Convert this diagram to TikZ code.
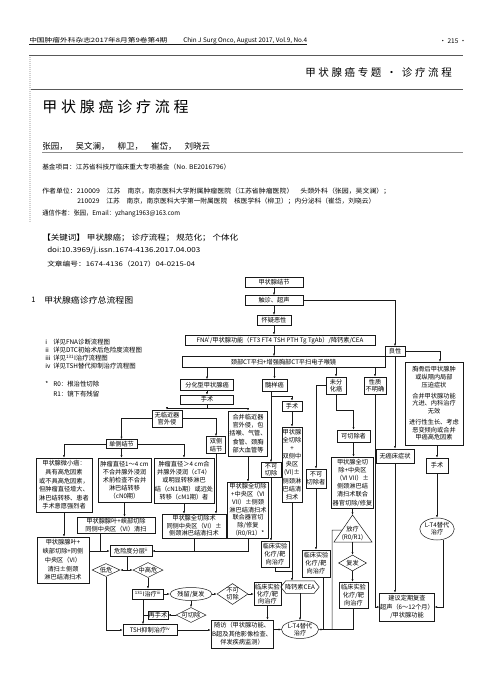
\documentclass[tikz,border=0pt]{standalone}
\usepackage{fontspec}
\usepackage{graphicx}
\newfontfamily\cjk{Noto Sans CJK SC}
\newfontfamily\cjkwide[LetterSpace=25]{Noto Sans CJK SC}
\usetikzlibrary{arrows.meta,shapes.geometric,calc}

\begin{document}
\begin{tikzpicture}[x=1pt, y=-1pt, line width=0.5pt, color=black!90,
  >={Latex[length=2.6pt,width=2.1pt]},
  bx/.style={draw, align=center, inner sep=0.4pt, text=black,
    font=\cjk\fontsize{6.2}{#1}\selectfont},
  bx/.default=7.6,
  sz/.style 2 args={minimum width=#1, minimum height=#2},
  dm/.style={draw, diamond, aspect=2, inner sep=0pt, text=black, align=center,
    font=\cjk\fontsize{6.2}{7}\selectfont},
  el/.style={draw, ellipse, inner sep=0pt, text=black, align=center,
    font=\cjk\fontsize{6.2}{7}\selectfont},
  tx/.style={inner sep=0pt, anchor=west, text=black,
    font=\cjk\fontsize{#1}{#1}\selectfont},
  rs/.style={inner sep=0pt, anchor=west, text=black, font=\cjk}]

\useasboundingbox (0,0) rectangle (502,692);

% Hlavicka
\node[rs] (jn1) at (29,40.5) {\resizebox{138pt}{5pt}{中国肿瘤外科杂志2017年8月第9卷第4期}};
\node[rs] (jn2) at (183,40.5) {\resizebox{124pt}{5pt}{Chin J Surg Onco, August 2017, Vol.9, No.4}};
\draw[line width=0.35pt] (29,44.5) -- (307,44.5);
\node[tx=6.5, anchor=center] (pg) at (453,41) {· 215 ·};
\draw[line width=0.6pt, black!65] (29,55) -- (463,55);
\node[rs, anchor=east, font=\cjkwide\fontsize{10.5}{10.5}\selectfont] (sec) at (452,72.5) {甲状腺癌专题 · 诊疗流程};
\draw[line width=0.6pt, black!65] (29,89) -- (463,89);
\node[rs, font=\cjkwide\fontsize{15}{15}\selectfont] (ttl) at (42,106.5) {甲状腺癌诊疗流程};
\draw[gray!35, line width=2pt, dash pattern=on 1pt off 1pt] (30,57) -- (30,222);

% Autori
\node[tx=8.5] (au) at (42,146.5) {张园，\hspace{8pt}吴文澜，\hspace{8pt}柳卫，\hspace{8pt}崔岱，\hspace{8pt}刘晓云};
\draw[black!45] (42,152.5) -- (463,152.5);
\node[rs] (fund) at (42,167.3) {\resizebox{188pt}{5.5pt}{基金项目：江苏省科技厅临床重大专项基金（No. BE2016796）}};
\node[rs] (un1) at (42,191) {\resizebox{348pt}{5.5pt}{作者单位：210009\quad 江苏\quad 南京，南京医科大学附属肿瘤医院（江苏省肿瘤医院）\quad 头颈外科（张园，吴文澜）；}};
\node[rs] (un2) at (77,201) {\resizebox{298pt}{5.5pt}{210029\quad 江苏\quad 南京，南京医科大学第一附属医院\quad 核医学科（柳卫）；内分泌科（崔岱，刘晓云）}};
\node[rs] (cor) at (42,214) {\resizebox{138pt}{5.5pt}{通信作者：张园，Email：yzhang1963@163.com}};
\node[rs] (kw) at (42,238.3) {\resizebox{196pt}{6.5pt}{【关键词】\ 甲状腺癌；\ 诊疗流程；\ 规范化；\ 个体化}};
\node[rs] (doi) at (47,251) {\resizebox{153pt}{5.5pt}{doi:10.3969/j.issn.1674-4136.2017.04.003}};
\node[rs] (wz) at (47,264) {\resizebox{148pt}{5.5pt}{文章编号：1674-4136（2017）04-0215-04}};
\node[tx=7.5] (s1n) at (31,300) {1};
\node[rs] (s1) at (44,300) {\resizebox{89pt}{7pt}{甲状腺癌诊疗总流程图}};

% Legenda
\node[tx=6.4] (lg1) at (45,342) {i};
\node[tx=6.4] (lt1) at (53,342) {详见FNA诊断流程图};
\node[tx=6.4] (lg2) at (45,350) {ii};
\node[tx=6.4] (lt2) at (53,350) {详见DTC初始术后危险度流程图};
\node[tx=6.4] (lg3) at (45,358) {iii};
\node[tx=6.4] (lt3) at (53,358) {详见\textsuperscript{131}I治疗流程图};
\node[tx=6.4] (lg4) at (45,366) {iv};
\node[tx=6.4] (lt4) at (53,366) {详见TSH替代抑制治疗流程图};
\node[tx=6.4] (lg5) at (45,384) {*};
\node[tx=6.4] (lt5) at (53,384) {R0：根治性切除};
\node[tx=6.4] (lt6) at (53,394) {R1：镜下有残留};

% Horni cast schematu
\node[bx, sz={58}{10}] (jj) at (274,282.5) {甲状腺结节};
\node[bx, sz={58}{10}] (cz) at (274,300.5) {触诊、超声};
\node[bx, sz={34}{9.5}] (hy) at (274,320) {怀疑恶性};
\node[bx, sz={190}{10}] (fna) at (280,340) {FNA\textsuperscript{i}/甲状腺功能（FT3 FT4 TSH PTH Tg TgAb）/降钙素/CEA};
\node[bx, sz={203}{10.5}] (ct) at (283.5,361.75) {颈部CT平扫+增强胸部CT平扫电子喉镜};
\node[bx, sz={20}{9.5}] (lx) at (395,351.3) {良性};
\node[bx, sz={53}{10.5}] (fh) at (207,384.75) {分化型甲状腺癌};
\node[bx, sz={25}{12}] (sy) at (274.5,385) {髓样癌};
\node[bx=7.2, sz={20}{17}] (uf) at (336,385.5) {未分\\化癌};
\node[bx=7.2, sz={22}{17}] (xz) at (375,385.5) {性质\\不明确};

% Diferencovany karcinom
\node[bx, sz={53}{9}] (ssl) at (207,399.5) {手术};
\node[bx=7.4, sz={30}{17}] (wl) at (167,418.5) {无临近器\\官外侵};
\node[bx=8.4, sz={39}{45}] (hb) at (248,433.5) {合并临近器\\官外侵，包\\括喉、气管、\\食管、颈胸\\部大血管等};
\node[bx, sz={31}{9}] (dc) at (121.5,444) {单侧结节};
\node[bx=7.4, sz={19}{17}] (sc) at (216,445) {双侧\\结节};
\node[bx=8.6, sz={56}{54}] (b1) at (64,485) {甲状腺微小癌：\\具有高危因素\\或不具高危因素，\\但肿瘤直径增大、\\淋巴结转移、患者\\手术意愿强烈者};
\node[bx=8, sz={53}{44}] (b2) at (124.5,480) {肿瘤直径1～4 cm\\不合并腺外浸润\\术前检查不合并\\淋巴结转移\\（cN0期）};
\node[bx=8.4, sz={60}{45}] (b3) at (184,480.5) {肿瘤直径＞4 cm合\\并腺外浸润（cT4）\\或明显转移淋巴\\结（cN1b期）或远处\\转移（cM1期）者};
\node[bx=7.4, sz={78}{16}] (b2r) at (116,525) {甲状腺腺叶+峡部切除\\同侧中央区（VI）清扫};
\node[bx=7.6, sz={64}{24}] (b3r) at (194,526) {甲状腺全切除术\\同侧中央区（VI）±\\侧颈淋巴结清扫术};
\node[bx=8.8, sz={52}{46}] (b1r) at (63,560) {甲状腺腺叶+\\峡部切除+同侧\\中央区（VI）\\清扫±侧颈\\淋巴结清扫术};
\node[bx=7.9, sz={41}{56}] (bm) at (248,510) {甲状腺全切除\\+中央区（VI\\VII）±侧颈\\淋巴结清扫术\\联合器官切\\除/修复\\（R0/R1）*};

% Medularni karcinom
\node[bx, sz={20}{10}] (ssm) at (292,406) {手术};
\node[bx=7, sz={20}{15}] (nm) at (271,470) {不可\\切除};
\node[bx=8.1, sz={20}{75}] (qm) at (292,464.5) {甲状腺\\全切除\\+\\双侧中\\央区\\(VI)±\\侧颈淋\\巴结清\\扫术};
\node[bx=8, sz={28}{26}] (lm) at (275,554) {临床实验\\化疗/靶\\向治疗};
\node[inner sep=0pt, sz={38}{12}, text=black, font=\cjk\fontsize{6.2}{7}\selectfont] (hx) at (300,587) {降钙素CEA};
\draw (hx.west) -- ($(hx.north west)+(5,0)$) -- ($(hx.north east)+(-5,0)$) -- (hx.east)
  -- ($(hx.south east)+(-5,0)$) -- ($(hx.south west)+(5,0)$) -- cycle;
\node[el, sz={37}{17}] (lt) at (300,629.5) {L-T4替代\\治疗};

% Anaplasticky karcinom
\node[bx=7.6, sz={20}{19}] (nk) at (316,478.5) {不可\\切除者};
\node[bx=8, sz={28}{27}] (lu) at (316,563.5) {临床实验\\化疗/靶\\向治疗};
\node[bx, sz={33}{12}] (kq) at (353.5,436) {可切除者};
\node[bx=8.2, sz={42}{51}] (qc) at (352.5,482.5) {甲状腺全切\\除+中央区\\（VI VII）±\\侧颈淋巴结\\清扫术联合\\器官切除/修复};
\coordinate (ta) at (352.5,515);
\coordinate (tr) at (372,542);
\coordinate (tl) at (334,542);
\draw (ta) -- (tr) -- (tl) -- cycle;
\node[inner sep=0pt, align=center, text=black, font=\cjk\fontsize{6.2}{7.4}\selectfont] (rt) at (352.5,533.5) {放疗\\(R0/R1)};
\node[dm, sz={28}{16}] (ff) at (352.5,563) {复发};
\node[bx=8, sz={29}{26}] (lf) at (353.5,595) {临床实验\\化疗/靶\\向治疗};

% Benigni
\node[bx=7.6, sz={58}{83}] (xb) at (434,403.5) {胸骨后甲状腺肿\\或纵隔内局部\\压迫症状\\[3.5pt]合并甲状腺功能\\亢进、内科治疗\\无效\\[3.5pt]进行性生长、考虑\\恶变倾向或合并\\甲癌高危因素};
\node[bx, sz={38}{14}] (wa) at (395,456) {无癌床症状};
\node[bx, sz={22}{15}] (ssr) at (437,465.5) {手术};
\node[el, sz={33}{22}] (ltr) at (437,529) {L-T4替代\\治疗};
\node[bx=8.4, sz={52}{28}] (jy) at (407,607) {建议定期复查\\超声（6～12个月）\\/甲状腺功能};

% Riziko
\node[bx, sz={42}{11}] (wx) at (131,551) {危险度分层\textsuperscript{ii}};
\node[dm, sz={28}{13}] (dw) at (106,570) {低危};
\node[dm, sz={30}{13}] (zg) at (148,570) {中高危};
\node[bx, sz={31}{10}] (i131) at (148,594) {\textsuperscript{131}I治疗\textsuperscript{iii}};
\node[el, sz={42}{13}] (cl) at (191,594) {残留/复发};
\node[dm, aspect=1.5, sz={31}{21}] (bk) at (232.5,594) {不可\\切除};
\node[bx=7.2, sz={27}{23}] (lc) at (267.5,594) {临床实验\\化疗/靶\\向治疗};
\node[dm, sz={28}{12}] (kc) at (191,615) {可切除};
\node[bx, sz={20}{8.5}] (zs) at (158,615) {再手术};
\node[bx, sz={54}{11}] (tsh) at (150,630) {TSH抑制治疗\textsuperscript{iv}};
\node[bx=8.4, sz={62}{28}] (sf) at (242,634) {随访（甲状腺功能、\\B超及其他影像检查、\\伴发疾病监测）};

% Spojnice nahore
\draw[->] (jj.south) -- (cz.north);
\draw[->] (cz.south) -- (hy.north);
\draw[->] (hy.south) -- (hy.south |- fna.north);
\draw[->] (fna.south -| hy.south) -- (hy.south |- ct.north);
\draw[->] (cz.east) -| (lx.north);
\draw[->] (ct.south -| fh.north) -- (fh.north);
\draw[->] (ct.south -| sy.north) -- (sy.north);
\draw[->] (ct.south -| uf.north) -- (uf.north);
\draw[->] (ct.south -| xz.north) -- (xz.north);

% Spojnice - diferencovany
\coordinate (k1) at (207,408);
\draw[->] (fh.south) -- (ssl.north);
\draw (ssl.south) -- (k1);
\draw[->] (k1) -| (wl.north);
\draw[->] (k1) -| (hb.north);
\draw[->] (wl.west) -| (dc.north);
\draw[->] (wl.east) -| (sc.north);
\draw[->] (dc.west) -| (b1.north);
\draw[->] (dc.south) -- (dc.south |- b2.north);
\draw[->] (dc.east) -| (b3.north);
\draw[->] (b1.south) -- (b1.south |- b1r.north);
\draw[->] (b2.south) -- (b2.south |- b2r.north);
\draw[->] (b3.south) -- (b3.south |- b3r.north);
\draw[->] (sc.south) -- (sc.south |- b3r.north);
\draw[->] (hb.south) -- (hb.south |- bm.north);
\coordinate (k2) at (100,551);
\draw (b2r.south -| k2) -- (k2);
\draw[->] (b1r.east |- wx.west) -- (wx.west);
\draw[->] (bm.south) |- (wx.east);
\draw (b3r.south) -- (b3r.south |- wx.east);

% Spojnice - riziko
\coordinate (k3) at (127,570);
\draw (wx.south -| k3) -- (k3);
\draw[->] (k3) -- (dw.east);
\draw[->] (k3) -- (zg.west);
\draw[->] (zg.south) -- (i131.north);
\draw[->] (i131.east) -- (cl.west);
\draw[->] (cl.east) -- (bk.west);
\draw[->] (bk.east) -- (lc.west);
\draw[->] (lc.south) -- (lc.south |- sf.north);
\draw[->] (cl.south) -- (kc.north);
\draw[->] (kc.west) -- (zs.east);
\coordinate (k4) at (143,615);
\draw[->] (i131.south -| k4) -- (k4 |- tsh.north);
\draw (zs.west) -- (k4);
\draw[->] (dw.south) |- (tsh.west);
\draw[->] (tsh.east) -- (tsh.east -| sf.west);
\draw[->] (lt.west -| sf.east) -- (lt.west);

% Spojnice - medularni
\coordinate (k5) at (271,396);
\draw[->] (sy.south -| k5) -- (nm.north);
\draw[->] (k5) -| (ssm.north);
\draw[->] (ssm.south) -- (qm.north);
\draw[->] (nm.south) -- (nm.south |- lm.north);
\coordinate (k6) at (292,571);
\draw (lm.south) |- (k6);
\draw[->] (qm.south) -- (qm.south |- hx.north);
\draw[->] (hx.south) -- (lt.north);

% Spojnice - anaplasticky
\draw[->] (uf.west) -| (nk.north);
\draw[->] (nk.south) -- (lu.north);
\draw[->] (uf.south) -- ++(0,16) -| (kq.north);
\draw[->] (kq.south) -- (kq.south |- qc.north);
\draw[->] (qc.south) -- (ta);
\draw[->] (tl -| ta) -- (ff.north);
\draw[->] (ff.south) -- (ff.south |- lf.north);
\draw[->] (lf.south) |- (lt.east);
\coordinate (k7) at (323,629.5);
\draw (lu.south -| k7) -- (k7);
\coordinate (k8) at (332,530);
\draw ($(ta)!0.556!(tl)$) -- (k8) -- (k8 |- lt.east);

% Spojnice - benigni a nejasne
\draw[->] (xz.south) |- (jy.west);
\draw[->] (lx.south) -- (lx.south |- wa.north);
\coordinate (k9) at (440,362);
\draw[->] (lx.east) -| (k9);
\draw[->] (xb.south -| ssr.north) -- (ssr.north);
\draw[->] (ssr.south) -- (ltr.north);
\draw[->] (ltr.-60) |- (jy.east);
\draw[->] (wa.south) -- (wa.south |- jy.north);

\end{tikzpicture}
\end{document}
